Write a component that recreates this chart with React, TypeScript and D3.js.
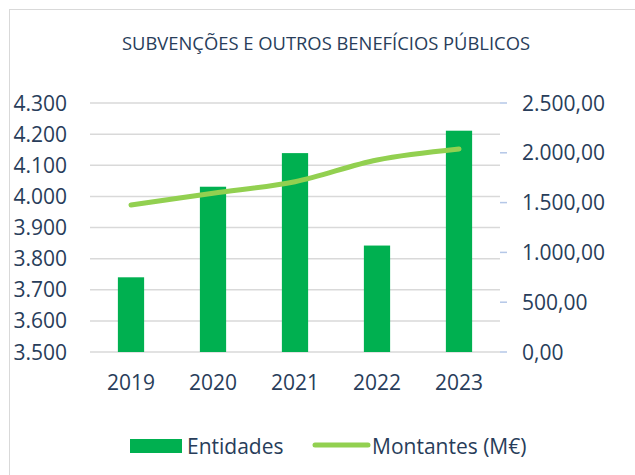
import React from "react";
import * as d3 from "d3";

const years = ["2019", "2020", "2021", "2022", "2023"];
const entidades = [3740, 4031, 4139, 3842, 4211];
const montantes = [1476, 1593, 1710, 1928, 2038];
const leftTicks = [3500, 3600, 3700, 3800, 3900, 4000, 4100, 4200, 4300];
const rightTicks = [0, 500, 1000, 1500, 2000, 2500];
const title = "SUBVENÇÕES E OUTROS BENEFÍCIOS PÚBLICOS";

const W = 635;
const H = 475;
const plot = { left: 90, right: 500, top: 103, bottom: 352 };
const textColor = "#283D5A";
const font = "'Open Sans', 'Noto Sans', sans-serif";

const ptFmt = (v: number, dec: number) => {
  const s = v.toFixed(dec);
  const [i, d] = s.split(".");
  const int = i.replace(/\B(?=(\d{3})+(?!\d))/g, ".");
  return d ? `${int},${d}` : int;
};

export default function App() {
  const x = d3.scaleBand<string>().domain(years).range([plot.left, plot.right]).padding(0);
  const yL = d3.scaleLinear().domain([3500, 4300]).range([plot.bottom, plot.top]);
  const yR = d3.scaleLinear().domain([0, 2500]).range([plot.bottom, plot.top]);
  const barW = x.bandwidth() * 0.32;
  const line = d3
    .line<number>()
    .x((_, i) => (x(years[i]) as number) + x.bandwidth() / 2)
    .y((d) => yR(d))
    .curve(d3.curveCatmullRom.alpha(0.5));

  return (
    <svg width={W} height={H} style={{ position: "absolute", left: 0, top: 0, background: "#fff" }} fontFamily={font}>
      <defs>
        <linearGradient id="raxis" x1="0" y1="0" x2="0" y2="1">
          <stop offset="0" stopColor="#A9BDE2" />
          <stop offset="0.6" stopColor="#C9D6EE" />
          <stop offset="1" stopColor="#F2F5FB" />
        </linearGradient>
      </defs>
      <rect x={9.5} y={9.5} width={700} height={600} fill="#fff" stroke="#D9D9D9" strokeWidth={1} />
      <text x={326} y={50} textAnchor="middle" fontSize={19} fill={textColor} textLength={408} lengthAdjust="spacingAndGlyphs">
        {title}
      </text>
      {leftTicks.map((t) => (
        <line key={"g" + t} x1={plot.left} x2={plot.right} y1={yL(t)} y2={yL(t)} stroke="#D9D9D9" strokeWidth={1.5} />
      ))}
      {leftTicks.map((t) => (
        <text key={"l" + t} x={67} y={yL(t)} dy="0.36em" textAnchor="end" fontSize={21} fill={textColor}>
          {ptFmt(t, 0)}
        </text>
      ))}
      <line x1={plot.right} x2={plot.right} y1={plot.top} y2={plot.bottom} stroke="url(#raxis)" strokeWidth={1.5} />
      {rightTicks.map((t) => (
        <line key={"rt" + t} x1={plot.right} x2={plot.right + 7} y1={yR(t)} y2={yR(t)} stroke="#B4C7E7" strokeWidth={1.5} />
      ))}
      {rightTicks.map((t) => (
        <text key={"r" + t} x={522} y={yR(t)} dy="0.36em" textAnchor="start" fontSize={21} fill={textColor}>
          {ptFmt(t, 2)}
        </text>
      ))}
      {years.map((yr, i) => (
        <rect
          key={"b" + yr}
          x={(x(yr) as number) + x.bandwidth() / 2 - barW / 2}
          y={yL(entidades[i])}
          width={barW}
          height={plot.bottom - yL(entidades[i])}
          fill="#00B050"
        />
      ))}
      {years.map((yr) => (
        <text key={"x" + yr} x={(x(yr) as number) + x.bandwidth() / 2} y={390} textAnchor="middle" fontSize={21} fill={textColor}>
          {yr}
        </text>
      ))}
      <path d={line(montantes) as string} fill="none" stroke="#92D050" strokeWidth={5} strokeLinecap="round" strokeLinejoin="round" />
      <rect x={130} y={439} width={52} height={14} fill="#00B050" />
      <text x={187} y={446} dy="0.36em" fontSize={21} fill={textColor}>Entidades</text>
      <line x1={315} x2={368} y1={445} y2={445} stroke="#92D050" strokeWidth={5} strokeLinecap="round" />
      <text x={372} y={446} dy="0.36em" fontSize={21} fill={textColor}>Montantes (M€)</text>
    </svg>
  );
}
